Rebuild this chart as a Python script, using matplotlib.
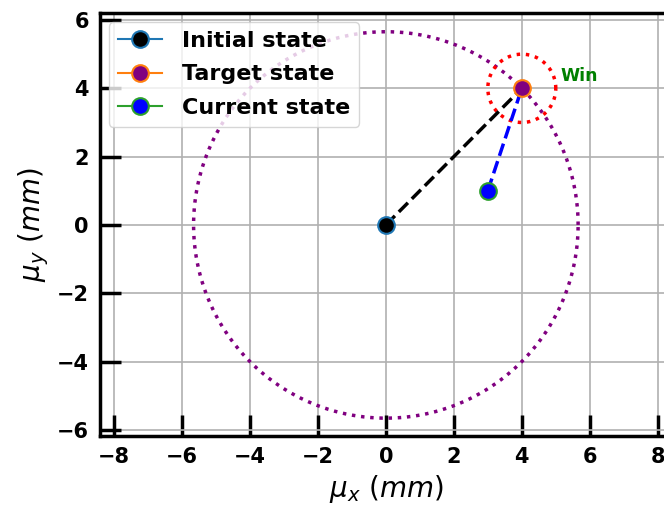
import numpy as np
import matplotlib
matplotlib.use("Agg")
import matplotlib.pyplot as plt

# Zustaende (mm)
initial = [0.0, 0.0]
target = [4.0, 4.0]
current = [3.0, 1.0]
win_radius = 1.0

ticks_x = [-8, -6, -4, -2, 0, 2, 4, 6, 8]
ticks_y = [-6, -4, -2, 0, 2, 4, 6]

fig = plt.figure(figsize=(6.64, 5.07), dpi=100)
ax = fig.add_axes([0.1506, 0.140, 0.861, 0.834])

# grosser Kreis: Abstand Start -> Ziel
r = np.hypot(target[0] - initial[0], target[1] - initial[1])
t = np.linspace(0, 2 * np.pi, 400)
ax.plot(initial[0] + r * np.cos(t), initial[1] + r * np.sin(t), ':', color='purple', lw=2.5)
ax.plot(target[0] + win_radius * np.cos(t), target[1] + win_radius * np.sin(t), ':', color='red', lw=2.5)

# Verbindungen
ax.plot([initial[0], target[0]], [initial[1], target[1]], '--', color='black', lw=2.5)
ax.plot([current[0], target[0]], [current[1], target[1]], '--', color='blue', lw=2.5)

ax.plot(initial[0], initial[1], marker='o', color='tab:blue', markerfacecolor='black',
        markersize=12, markeredgewidth=1.5, label='Initial state')
ax.plot(target[0], target[1], marker='o', color='tab:orange', markerfacecolor='purple',
        markersize=12, markeredgewidth=1.5, label='Target state')
ax.plot(current[0], current[1], marker='o', color='tab:green', markerfacecolor='blue',
        markersize=12, markeredgewidth=1.5, label='Current state')

ax.text(target[0] + 1.15, target[1] + 0.35, 'Win', color='green', fontsize=12.5,
        fontweight='bold', va='center')

ax.set_xlim(-8.41, 8.41)
ax.set_ylim(-6.18, 6.2)
ax.set_xticks(ticks_x)
ax.set_yticks(ticks_y)
ax.grid(True, color='#b0b0b0', lw=1.2)
ax.tick_params(direction='in', length=15, width=2.5, labelsize=15, pad=8)
for lab in ax.get_xticklabels() + ax.get_yticklabels():
    lab.set_fontweight('bold')
for s in ax.spines.values():
    s.set_linewidth(2.5)

ax.set_xlabel(r'$\mu_x\ (mm)$', fontsize=20, labelpad=4)
ax.set_ylabel(r'$\mu_y\ (mm)$', fontsize=20, labelpad=4)

ax.legend(loc='upper left', prop={'weight': 'bold', 'size': 16}, handlelength=2,
          borderaxespad=0.4, handletextpad=0.9, labelspacing=0.6, borderpad=0.4)

fig.savefig('out.png', dpi=100)
